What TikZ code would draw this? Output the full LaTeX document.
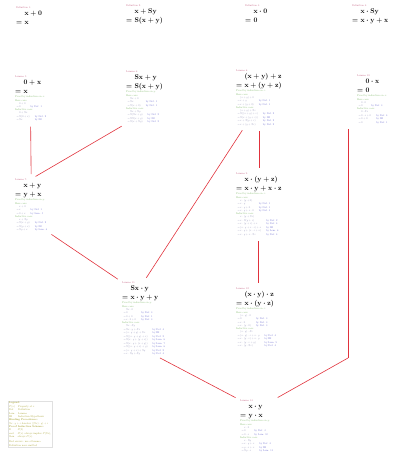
\documentclass[tikz,border=0pt]{standalone}
\usepackage{amsmath}
\definecolor{mytitle}{RGB}{200,110,140}
\definecolor{mygreen}{RGB}{140,190,120}
\definecolor{mystep}{RGB}{150,150,185}
\definecolor{myby}{RGB}{120,120,210}
\definecolor{myolive}{RGB}{175,170,70}
\definecolor{myred}{RGB}{225,50,60}
\usetikzlibrary{positioning,calc}

\newcommand{\hd}[1]{{\color{mytitle}#1}\\[2pt]}
\newcommand{\claim}[2]{{\fontsize{21}{25}\selectfont\boldmath
  \begin{tabular}{@{}r@{\hspace{0.35em}}l@{}}&$\mathbf{#1}$\\$=$&$\mathbf{#2}$\end{tabular}}}
\newcommand{\pf}[1]{{\color{mygreen}#1}}
\newcommand{\by}[1]{{\color{myby}by #1}}
\newcommand{\steps}[1]{{\color{mystep}%
  \begin{tabular}{@{\hspace{4.5pt}}r@{\,}l@{\hspace{15pt}}l@{}}#1\end{tabular}}}

\begin{document}
\begin{tikzpicture}[x=3pt,y=-3pt,
        lem/.style={anchor=north west,inner sep=0pt,align=left,
          font=\fontsize{7.8}{10.5}\selectfont},
        legendbox/.style={lem,draw=black!12,line width=0.9pt,inner sep=3pt,
          text=myolive},
        uses/.style={draw=myred,line width=1.8pt},
        shorten >= 15pt,shorten <= 15pt
        ]
        \useasboundingbox (0,0) rectangle (400,454);

        % the definitions
        \node[lem] (d1) at (16,7) {\hd{Definition 1:} \claim{x+0}{x}};
        \node[lem] (d2) at (126,5) {\hd{Definition 2:} \claim{x+Sy}{S(x+y)}};
        \node[lem] (d3) at (245,5) {\hd{Definition 3:} \claim{x\cdot 0}{0}};
        \node[lem] (d4) at (352,5) {\hd{Definition 4:} \claim{x\cdot Sy}{x\cdot y+x}};

        % the lemmas on addition
        \node[lem] (l5) at (15,76) {\hd{Lemma 5:} \claim{0+x}{x}\\
          \pf{Proof by induction on $x$:}\\ \pf{Base case:}\\
          \steps{&$0+0$&\\$=$&$0$&\by{Def. 1}}\\
          \pf{Inductive case:}\\
          \steps{&$0+Sx$&\\$=$&$S(0+x)$&\by{Def. 2}\\$=$&$Sx$&\by{IH}}};
        \node[lem] (l6) at (126,71) {\hd{Lemma 6:} \claim{Sx+y}{S(x+y)}\\
          \pf{Proof by induction on $y$:}\\ \pf{Base case:}\\
          \steps{&$Sx+0$&\\$=$&$Sx$&\by{Def. 1}\\$=$&$S(x+0)$&\by{Def. 1}}\\
          \pf{Inductive case:}\\
          \steps{&$Sx+Sy$&\\$=$&$S(Sx+y)$&\by{Def. 2}\\$=$&$SS(x+y)$&\by{IH}\\
            $=$&$S(x+Sy)$&\by{Def. 2}}};
        \node[lem] (l8) at (236,70) {\hd{Lemma 8:} \claim{(x+y)+z}{x+(y+z)}\\
          \pf{Proof by induction on $z$:}\\ \pf{Base case:}\\
          \steps{&$(x+y)+0$&\\$=$&$x+y$&\by{Def. 1}\\$=$&$x+(y+0)$&\by{Def. 1}}\\
          \pf{Inductive case:}\\
          \steps{&$(x+y)+Sz$&\\$=$&$S((x+y)+z)$&\by{Def. 2}\\
            $=$&$S(x+(y+z))$&\by{IH}\\$=$&$x+S(y+z)$&\by{Def. 2}\\
            $=$&$x+(y+Sz)$&\by{Def. 2}}};
        \node[lem] (l10) at (357,75) {\hd{Lemma 10:} \claim{0\cdot x}{0}\\
          \pf{Proof by induction on $x$:}\\ \pf{Base case:}\\
          \steps{&$0\cdot 0$&\\$=$&$0$&\by{Def. 3}}\\
          \pf{Inductive case:}\\
          \steps{&$0\cdot Sx$&\\$=$&$0\cdot x+0$&\by{Def. 4}\\$=$&$0+0$&\by{IH}\\
            $=$&$0$&\by{Def. 1}}};
        \node[lem] (l7) at (15,179) {\hd{Lemma 7:} \claim{x+y}{y+x}\\
          \pf{Proof by induction on $y$:}\\ \pf{Base case:}\\
          \steps{&$x+0$&\\$=$&$x$&\by{Def. 1}\\$=$&$0+x$&\by{Lem. 5}}\\
          \pf{Inductive case:}\\
          \steps{&$x+Sy$&\\$=$&$S(x+y)$&\by{Def. 2}\\$=$&$S(y+x)$&\by{IH}\\
            $=$&$Sy+x$&\by{Lem. 6}}};

        % the lemmas on multiplication
        \node[lem] (l9) at (236,173) {\hd{Lemma 9:} \claim{x\cdot(y+z)}{x\cdot y+x\cdot z}\\
          \pf{Proof by induction on $z$:}\\ \pf{Base case:}\\
          \steps{&$x\cdot(y+0)$&\\$=$&$x\cdot y$&\by{Def. 1}\\
            $=$&$x\cdot y+0$&\by{Def. 1}\\$=$&$x\cdot y+x\cdot 0$&\by{Def. 3}}\\
          \pf{Inductive case:}\\
          \steps{&$x\cdot(y+Sz)$&\\$=$&$x\cdot S(y+z)$&\by{Def. 2}\\
            $=$&$x\cdot(y+z)+x$&\by{Def. 4}\\$=$&$(x\cdot y+x\cdot z)+x$&\by{IH}\\
            $=$&$x\cdot y+(x\cdot z+x)$&\by{Lem. 8}\\$=$&$x\cdot y+x\cdot Sz$&\by{Def. 4}}};
        \node[lem] (l11) at (122,282) {\hd{Lemma 11:} \claim{Sx\cdot y}{x\cdot y+y}\\
          \pf{Proof by induction on $y$:}\\ \pf{Base case:}\\
          \steps{&$Sx\cdot 0$&\\$=$&$0$&\by{Def. 3}\\$=$&$0+0$&\by{Def. 1}\\
            $=$&$x\cdot 0+0$&\by{Def. 3}}\\
          \pf{Inductive case:}\\
          \steps{&$Sx\cdot Sy$&\\$=$&$Sx\cdot y+Sx$&\by{Def. 4}\\
            $=$&$(x\cdot y+y)+Sx$&\by{IH}\\$=$&$S((x\cdot y+y)+x)$&\by{Def. 2}\\
            $=$&$S(x\cdot y+(y+x))$&\by{Lem. 8}\\$=$&$S(x\cdot y+(x+y))$&\by{Lem. 7}\\
            $=$&$S((x\cdot y+x)+y)$&\by{Lem. 8}\\$=$&$(x\cdot y+x)+Sy$&\by{Def. 2}\\
            $=$&$x\cdot Sy+Sy$&\by{Def. 4}}};
        \node[lem] (l12) at (236,288) {\hd{Lemma 12:} \claim{(x\cdot y)\cdot z}{x\cdot(y\cdot z)}\\
          \pf{Proof by induction on $z$:}\\ \pf{Base case:}\\
          \steps{&$(x\cdot y)\cdot 0$&\\$=$&$0$&\by{Def. 3}\\$=$&$x\cdot 0$&\by{Def. 3}\\
            $=$&$x\cdot(y\cdot 0)$&\by{Def. 3}}\\
          \pf{Inductive case:}\\
          \steps{&$(x\cdot y)\cdot Sz$&\\$=$&$(x\cdot y)\cdot z+x\cdot y$&\by{Def. 4}\\
            $=$&$x\cdot(y\cdot z)+x\cdot y$&\by{IH}\\$=$&$x\cdot(y\cdot z+y)$&\by{Lem. 9}\\
            $=$&$x\cdot(y\cdot Sz)$&\by{Def. 4}}};
        \node[lem] (l13) at (240,400) {\hd{Lemma 13:} \claim{x\cdot y}{y\cdot x}\\
          \pf{Proof by induction on $y$:}\\ \pf{Base case:}\\
          \steps{&$x\cdot 0$&\\$=$&$0$&\by{Def. 3}\\$=$&$0\cdot x$&\by{Lem. 10}}\\
          \pf{Inductive case:}\\
          \steps{&$x\cdot Sy$&\\$=$&$x\cdot y+x$&\by{Def. 4}\\$=$&$y\cdot x+x$&\by{IH}\\
            $=$&$Sy\cdot x$&\by{Lem. 11}}};

        % the legend
        \node[legendbox] (key) at (8,401) {\textbf{Legend:}\\
          \begin{tabular}{@{}l@{\hspace{9pt}}l@{}}
            $P(x)$&Property of $x$\\ Def.&Definition\\ Lem.&Lemma\\
            IH&Induction Hypothesis\end{tabular}\\
          \textbf{Binding Precedence:}\\
          $Sx\cdot y+z$ denotes $((Sx)\cdot y)+z$\\
          \textbf{Proof Induction Scheme:}\\
          \begin{tabular}{@{}l@{\hspace{9pt}}l@{}}
            If&$P(0)$\\ and&$P(x)$ always implies $P(Sx)$,\\
            then&always $P(x)$.\end{tabular}\\[6pt]
          Red arrows: use of lemma\\ Definition uses omitted};

        % the uses
        \coordinate (bend) at (348,358);
        \draw[uses] (l5.south) -- (l7.north);
        \draw[uses] (l6.south west) -- (l7.north);
        \draw[uses] (l7.south east) -- (l11.north west);
        \draw[uses] (l8.south) -- (l8.south |- l9.north);
        \draw[uses] ([xshift=27pt]l8.south west) -- (l11.north);
        \draw[uses] (l9.south) -- (l9.south |- l12.north);
        \draw[uses] ([xshift=36pt]l11.south) -- (l13.north west);
        \draw[uses,shorten >=0pt] ([xshift=-27pt]l10.south west) -- (bend);
        \draw[uses,shorten <=0pt] (bend) -- (l13.north east);
        \end{tikzpicture}
\end{document}
